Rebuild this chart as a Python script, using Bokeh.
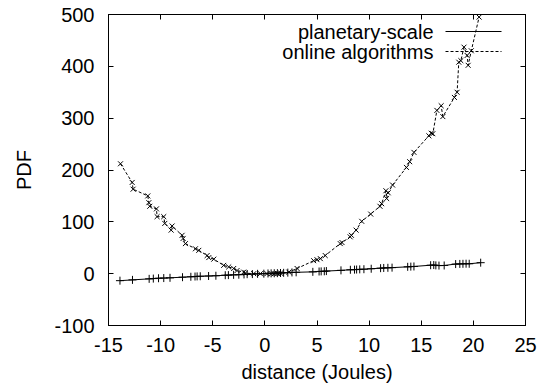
from bokeh.plotting import figure
from bokeh.models import LinearAxis, SingleIntervalTicker, CustomJSTickFormatter, Label, Arrow
from bokeh.embed import file_html
from bokeh.resources import INLINE

# planetary-scale series
planet_x = [-13.9, -12.7, -11.1, -10.7, -10.2, -9.7, -9.1, -7.9, -7.1, -6.7, -6.5, -6.2,
            -5.4, -4.7, -3.8, -3.5, -3.0, -2.5, -2.0, -1.7, -1.2, -0.7, -0.1, 0.3, 0.6,
            0.9, 1.2, 1.5, 1.8, 2.2, 2.6, 3.0, 4.6, 5.2, 5.4, 5.7, 5.9, 7.3, 8.2, 8.6,
            8.8, 9.1, 9.5, 10.2, 11.1, 11.4, 11.8, 12.2, 13.7, 14.0, 14.3, 15.9, 16.2,
            16.4, 16.7, 17.2, 18.3, 18.7, 19.0, 19.3, 19.6, 20.7]
planet_y = [-13.5, -12.0, -10.0, -9.5, -8.8, -8.5, -8.0, -6.8, -6.0, -5.5, -5.3, -5.0,
            -4.5, -4.0, -3.0, -2.8, -2.3, -2.0, -1.5, -1.0, -0.8, -0.3, 0.0, 0.4, 0.6,
            0.8, 1.0, 1.3, 1.6, 2.0, 2.4, 2.6, 3.5, 4.2, 4.4, 4.6, 5.0, 6.4, 7.5, 7.8,
            8.0, 8.3, 8.6, 9.5, 10.6, 11.0, 11.3, 11.6, 13.2, 13.6, 13.9, 16.3, 16.6,
            16.0, 15.6, 15.8, 18.5, 18.8, 19.0, 19.2, 19.1, 21.2]

# online algorithms series
online_x = [-13.85, -12.73, -12.64, -11.23, -11.13, -11.04, -10.40, -10.34, -9.70, -9.60,
            -8.99, -8.90, -7.94, -7.84, -7.62, -6.66, -6.34, -5.54, -5.38, -4.90, -3.95,
            -3.47, -2.99, -2.67, -2.03, -1.87, -1.07, -0.43, 0.2, 0.6, 0.9, 1.2, 1.5,
            2.30, 3.09, 4.68, 5.0, 5.32, 5.79, 7.23, 7.4, 8.18, 8.3, 8.75, 9.29, 10.15,
            11.04, 11.20, 11.61, 11.68, 11.83, 12.25, 13.58, 13.89, 14.30, 15.73, 15.96,
            16.11, 16.50, 16.91, 17.07, 18.18, 18.44, 18.6, 18.8, 19.1, 19.4, 19.5, 19.8,
            20.55]
online_y = [212, 176, 163, 150, 137, 130, 125, 110, 110, 97,
            84, 92, 74, 68, 58, 48, 45, 35, 31, 28, 16,
            13, 10, 6, 3, 1, 0, 0, 0, 0, 0, 0.5, 1,
            3, 10, 25, 27, 29, 35, 58, 60, 71, 74, 84, 101, 115,
            130, 135, 160, 145, 156, 171, 205, 216, 234, 266, 271,
            270, 315, 324, 303, 340, 350, 408, 411, 437, 421, 402, 430,
            495]

series_labels = ["planetary-scale", "online algorithms"]
x_label = "distance (Joules)"
y_label = "PDF"

FONT = "Liberation Sans"
FS = "20px"

p = figure(width=548, height=390, x_range=(-15, 25), y_range=(-100, 500),
           output_backend="svg", toolbar_location=None,
           min_border_left=108, min_border_right=23, min_border_top=14, min_border_bottom=65,
           x_axis_label=x_label, y_axis_label=y_label)
p.background_fill_color = "white"
p.border_fill_color = "white"
p.grid.visible = False
p.outline_line_color = "black"
p.outline_line_width = 1

p.xaxis.ticker = SingleIntervalTicker(interval=5, num_minor_ticks=0)
p.yaxis.ticker = SingleIntervalTicker(interval=100, num_minor_ticks=0)
p.xaxis.formatter = CustomJSTickFormatter(code="return tick.toFixed(0)")
p.yaxis.formatter = CustomJSTickFormatter(code="return tick.toFixed(0)")

for ax in (p.xaxis[0], p.yaxis[0]):
    ax.major_tick_in = 5
    ax.major_tick_out = 0
    ax.minor_tick_line_color = None
    ax.axis_line_color = "black"
    ax.major_tick_line_color = "black"
    ax.major_label_text_font = FONT
    ax.major_label_text_font_size = FS
    ax.major_label_text_color = "black"
    ax.axis_label_text_font = FONT
    ax.axis_label_text_font_size = FS
    ax.axis_label_text_font_style = "normal"
    ax.axis_label_text_color = "black"

p.xaxis.major_label_standoff = 12
p.xaxis.axis_label_standoff = 6
p.yaxis.major_label_standoff = 14
p.yaxis.axis_label_standoff = 16

top = LinearAxis(ticker=SingleIntervalTicker(interval=5, num_minor_ticks=0),
                 formatter=CustomJSTickFormatter(code="return ''"),
                 major_tick_in=5, major_tick_out=0, minor_tick_line_color=None,
                 major_label_standoff=0, major_label_text_font_size="1px")
right = LinearAxis(ticker=SingleIntervalTicker(interval=100, num_minor_ticks=0),
                   formatter=CustomJSTickFormatter(code="return ''"),
                   major_tick_in=5, major_tick_out=0, minor_tick_line_color=None,
                   major_label_standoff=0, major_label_text_font_size="1px")
p.add_layout(top, "above")
p.add_layout(right, "right")

# series
p.line(planet_x, planet_y, line_color="black", line_width=1)
p.scatter(planet_x, planet_y, marker="cross", size=8, line_color="black", line_width=1)
p.line(online_x, online_y, line_color="black", line_width=1, line_dash="3 2")
p.scatter(online_x, online_y, marker="x", size=7, line_color="black", line_width=1)

# key (screen units relative to the frame)
rows = [(294, "solid"), (274, "3 2")]
for (yy, dash), lab in zip(rows, series_labels):
    p.add_layout(Label(x=325, y=yy, x_units="screen", y_units="screen", text=lab,
                       text_align="right", text_baseline="middle",
                       text_font=FONT, text_font_size=FS, text_color="black"))
    p.add_layout(Arrow(start=None, end=None, x_start=337, y_start=yy, x_end=393, y_end=yy,
                       start_units="screen", end_units="screen",
                       line_color="black", line_width=1, line_dash=dash))

open("out.html", "w").write(file_html(p, INLINE))
